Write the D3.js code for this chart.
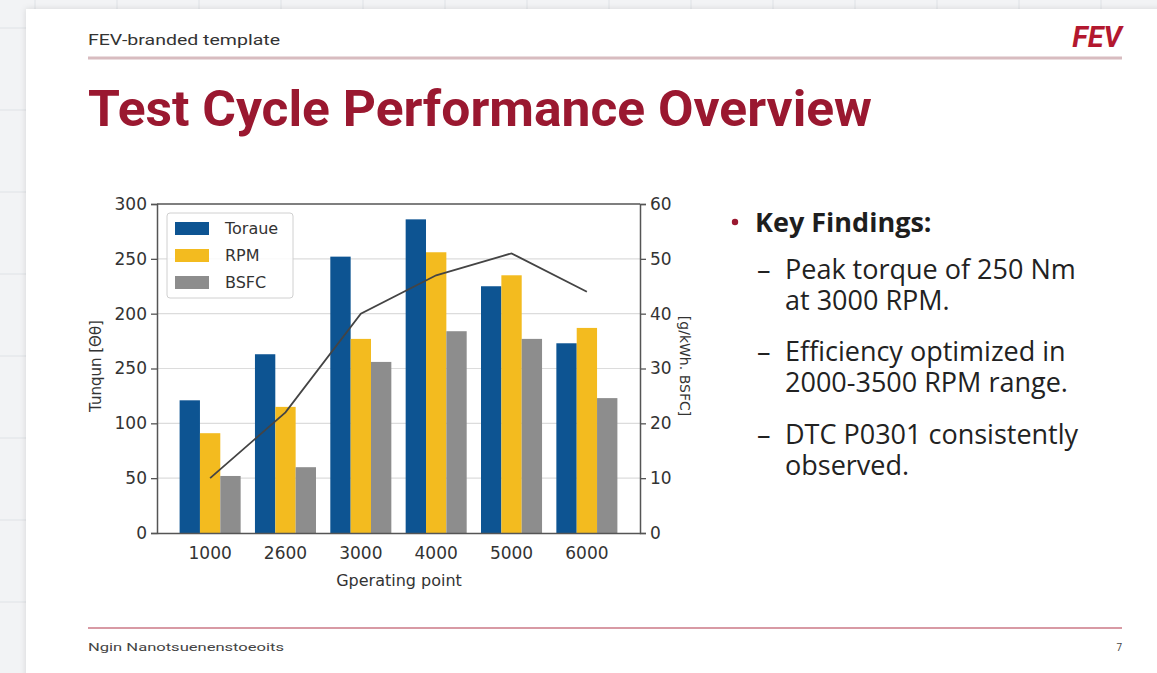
<!DOCTYPE html>
<html>
<head>
<meta charset="utf-8">
<script src="https://cdn.jsdelivr.net/npm/d3@7"></script>
<style>
	body{ margin:0; background:#f2f3f5; }
	svg{ display:block; }
</style>
</head>
<body>
<svg id="vis" width="1157" height="673"></svg>
<script>
// chart data
var points = ["1000", "2600", "3000", "4000", "5000", "6000"];
var seriesNames = ["Toraue", "RPM", "BSFC"];
var torque = [121, 163, 252, 286, 225, 173];
var rpm = [91, 115, 177, 256, 235, 187];
var bsfc = [52, 60, 156, 184, 177, 123];
var lineVals = [10, 22, 40, 47, 51, 44];
var leftTicks = [0, 50, 100, 150, 200, 250, 300];
var leftTickLabels = ["0", "50", "100", "250", "200", "250", "300"];
var rightTicks = [0, 10, 20, 30, 40, 50, 60];
var findings = [
	["Peak torque of 250 Nm", "at 3000 RPM."],
	["Efficiency optimized in", "2000-3500 RPM range."],
	["DTC P0301 consistently", "observed."]
];

var colors = ["#0d5492", "#f3bb1f", "#8d8d8d"];
var svg = d3.select("#vis");

// background grid + slide
var bg = svg.append("g");
d3.range(35, 1157, 82).forEach(function(x){
	bg.append("line").attr("x1", x).attr("x2", x).attr("y1", 0).attr("y2", 673)
		.attr("stroke", "#dfe2e6").attr("stroke-width", 1);
});
d3.range(28, 673, 82).forEach(function(y){
	bg.append("line").attr("x1", 0).attr("x2", 1157).attr("y1", y).attr("y2", y)
		.attr("stroke", "#dfe2e6").attr("stroke-width", 1);
});
var defs = svg.append("defs");
var f = defs.append("filter").attr("id", "sh").attr("x", "-5%").attr("y", "-5%").attr("width", "110%").attr("height", "110%");
f.append("feDropShadow").attr("dx", 0).attr("dy", 0).attr("stdDeviation", 3).attr("flood-color", "#000").attr("flood-opacity", 0.12);
svg.append("rect").attr("x", 26).attr("y", 9).attr("width", 1160).attr("height", 700)
	.attr("fill", "#ffffff").attr("filter", "url(#sh)");

// header
svg.append("text").attr("x", 88).attr("y", 45)
	.attr("font-family", "Roboto, sans-serif").attr("font-size", 14).attr("fill", "#333")
	.attr("textLength", 192).attr("lengthAdjust", "spacingAndGlyphs")
	.text("FEV-branded template");
svg.append("text").attr("x", 1122).attr("y", 47).attr("text-anchor", "end")
	.attr("font-family", "Roboto, sans-serif").attr("font-size", 29).attr("font-weight", 700)
	.attr("font-style", "italic").attr("fill", "#b3182f")
	.text("FEV");
svg.append("line").attr("x1", 88).attr("x2", 1122).attr("y1", 58).attr("y2", 58)
	.attr("stroke", "#d8bcc0").attr("stroke-width", 3);
svg.append("text").attr("x", 88).attr("y", 126)
	.attr("font-family", "Roboto, sans-serif").attr("font-size", 50).attr("font-weight", 700)
	.attr("fill", "#9a1830").attr("textLength", 784).attr("lengthAdjust", "spacingAndGlyphs")
	.text("Test Cycle Performance Overview");

// footer
svg.append("line").attr("x1", 88).attr("x2", 1122).attr("y1", 628).attr("y2", 628)
	.attr("stroke", "#d89aa4").attr("stroke-width", 2);
svg.append("text").attr("x", 88).attr("y", 651)
	.attr("font-family", "Roboto, sans-serif").attr("font-size", 10).attr("fill", "#444")
	.attr("textLength", 196).attr("lengthAdjust", "spacingAndGlyphs")
	.text("Ngin Nanotsuenenstoeoits");
svg.append("text").attr("x", 1122).attr("y", 651).attr("text-anchor", "end")
	.attr("font-family", "Roboto, sans-serif").attr("font-size", 10).attr("fill", "#444")
	.text("7");

// chart
var plotL = 157, plotR = 640, plotT = 204, plotB = 533;
var x = d3.scaleBand().domain(points).range([plotL, plotR]).paddingInner(0.19).paddingOuter(0.3);
var xs = d3.scaleBand().domain(seriesNames).range([0, x.bandwidth()]);
var yL = d3.scaleLinear().domain([0, 300]).range([plotB, plotT]);
var yR = d3.scaleLinear().domain([0, 60]).range([plotB, plotT]);
var font = "DejaVu Sans, sans-serif";

var chart = svg.append("g");
chart.selectAll(".grid").data(leftTicks.slice(1, -1)).enter().append("line")
	.attr("x1", plotL).attr("x2", plotR)
	.attr("y1", function(d){ return yL(d); }).attr("y2", function(d){ return yL(d); })
	.attr("stroke", "#dcdcdc").attr("stroke-width", 1.2);

var seriesData = [torque, rpm, bsfc];
seriesNames.forEach(function(name, si){
	chart.selectAll(".bar" + si).data(seriesData[si]).enter().append("rect")
		.attr("x", function(d, i){ return x(points[i]) + xs(name); })
		.attr("width", xs.bandwidth())
		.attr("y", function(d){ return yL(d); })
		.attr("height", function(d){ return yL(0) - yL(d); })
		.attr("fill", colors[si]);
});

var line = d3.line()
	.x(function(d, i){ return x(points[i]) + x.bandwidth() / 2; })
	.y(function(d){ return yR(d); });
chart.append("path").datum(lineVals).attr("d", line)
	.attr("fill", "none").attr("stroke", "#444").attr("stroke-width", 1.8);

// axes
var axL = d3.axisLeft(yL).tickValues(leftTicks).tickSize(6).tickPadding(4)
	.tickFormat(function(d, i){ return leftTickLabels[i]; });
var gL = chart.append("g").attr("transform", "translate(" + plotL + ",0)").call(axL);
var axR = d3.axisRight(yR).tickValues(rightTicks).tickSize(6).tickPadding(4);
var gR = chart.append("g").attr("transform", "translate(" + plotR + ",0)").call(axR);
var axB = d3.axisBottom(x).tickSize(0).tickPadding(14);
var gB = chart.append("g").attr("transform", "translate(0," + plotB + ")").call(axB);
[gL, gR, gB].forEach(function(g){
	g.selectAll("text").attr("font-family", font).attr("font-size", 17).attr("fill", "#333");
	g.selectAll("line").attr("stroke", "#555").attr("stroke-width", 1.3);
	g.select(".domain").attr("stroke", "#555").attr("stroke-width", 1.5);
});
chart.append("line").attr("x1", plotL).attr("x2", plotR).attr("y1", plotT).attr("y2", plotT)
	.attr("stroke", "#555").attr("stroke-width", 1.5);

chart.append("text").attr("x", 399).attr("y", 586).attr("text-anchor", "middle")
	.attr("font-family", font).attr("font-size", 16).attr("fill", "#333")
	.text("Gperating point");
chart.append("text").attr("transform", "translate(101,366) rotate(-90)").attr("text-anchor", "middle")
	.attr("font-family", font).attr("font-size", 15).attr("fill", "#333")
	.text("Tunqun [Θθ]");
chart.append("text").attr("transform", "translate(680,366) rotate(90)").attr("text-anchor", "middle")
	.attr("font-family", font).attr("font-size", 14).attr("fill", "#333")
	.text("[g/kWh. BSFC]");

// legend
var leg = chart.append("g").attr("transform", "translate(167,213)");
leg.append("rect").attr("width", 126).attr("height", 85).attr("rx", 3)
	.attr("fill", "#fff").attr("fill-opacity", 0.85).attr("stroke", "#d0d0d0");
seriesNames.forEach(function(name, i){
	leg.append("rect").attr("x", 8).attr("y", 9 + i * 27).attr("width", 34).attr("height", 13)
		.attr("fill", colors[i]);
	leg.append("text").attr("x", 58).attr("y", 21 + i * 27)
		.attr("font-family", font).attr("font-size", 16).attr("fill", "#333")
		.text(name);
});

// key findings
var kfFont = "Open Sans, sans-serif";
var kf = svg.append("g");
kf.append("circle").attr("cx", 735).attr("cy", 222).attr("r", 3.2).attr("fill", "#9a1830");
kf.append("text").attr("x", 755).attr("y", 232)
	.attr("font-family", kfFont).attr("font-size", 27).attr("font-weight", 700)
	.attr("fill", "#1e1e1e").text("Key Findings:");
var baseY = [279, 361, 444];
findings.forEach(function(lines, i){
	var t = kf.append("text").attr("y", baseY[i])
		.attr("font-family", kfFont).attr("font-size", 27).attr("fill", "#222");
	t.append("tspan").attr("x", 757).attr("y", baseY[i]).text("–");
	lines.forEach(function(s, j){
		t.append("tspan").attr("x", 785).attr("y", baseY[i] + j * 31).text(s);
	});
});
</script>
</body>
</html>
